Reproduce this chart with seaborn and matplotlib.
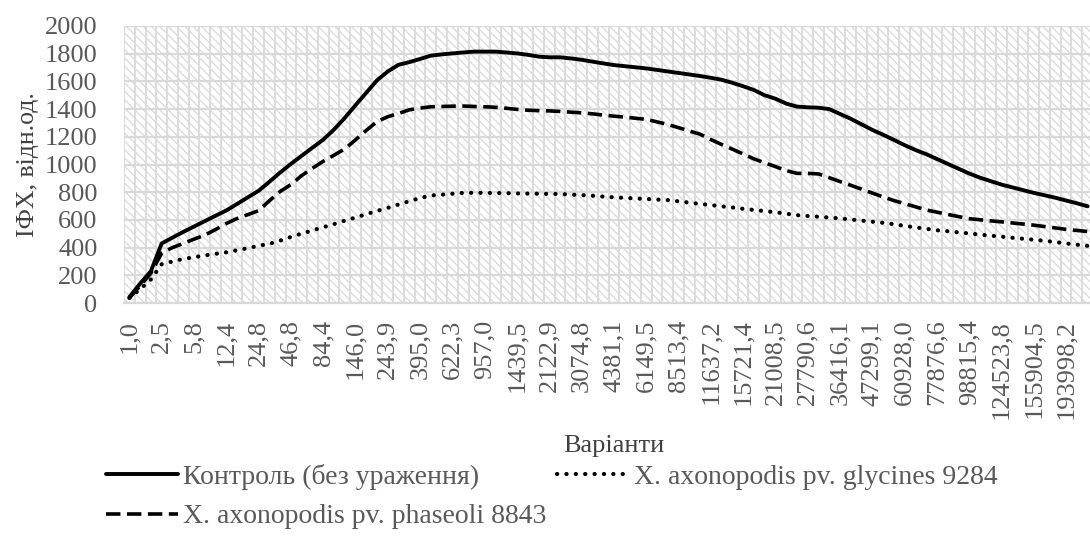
import numpy as np
import pandas as pd
import matplotlib
matplotlib.use("Agg")
import matplotlib.pyplot as plt
from matplotlib.patches import Rectangle
import seaborn as sns

# Tick labels shown on the category axis (every third category)
tick_labels = ["1,0", "2,5", "5,8", "12,4", "24,8", "46,8", "84,4", "146,0", "243,9", "395,0",
               "622,3", "957,0", "1439,5", "2122,9", "3074,8", "4381,1", "6149,5", "8513,4",
               "11637,2", "15721,4", "21008,5", "27790,6", "36416,1", "47299,1", "60928,0",
               "77876,6", "98815,4", "124523,8", "155904,5", "193998,2"]

# Values, one per category (90 categories)
control = [43, 140, 230, 430, 472, 513, 552, 591, 630, 668,
           715, 763, 810, 875, 942, 1004, 1063, 1121, 1179, 1252,
           1336, 1428, 1518, 1608, 1672, 1720, 1739, 1762, 1786, 1795,
           1802, 1809, 1815, 1815, 1815, 1809, 1802, 1792, 1779, 1774,
           1774, 1766, 1756, 1743, 1730, 1718, 1710, 1702, 1694, 1683,
           1672, 1661, 1650, 1639, 1626, 1612, 1590, 1565, 1538, 1500,
           1475, 1440, 1418, 1413, 1410, 1400, 1365, 1330, 1290, 1250,
           1215, 1178, 1140, 1105, 1075, 1040, 1005, 970, 935, 905,
           880, 855, 835, 815, 795, 778, 760, 740, 720, 698]

phaseoli = [36, 125, 215, 360, 400, 430, 461, 490, 530, 574,
            610, 638, 667, 738, 805, 855, 920, 973, 1023, 1067,
            1112, 1178, 1246, 1310, 1345, 1368, 1395, 1407, 1417, 1419,
            1421, 1422, 1419, 1417, 1413, 1406, 1398, 1392, 1389, 1387,
            1383, 1378, 1373, 1366, 1357, 1349, 1342, 1334, 1326, 1308,
            1289, 1266, 1242, 1219, 1180, 1145, 1111, 1076, 1041, 1012,
            985, 956, 936, 936, 932, 905, 877, 850, 822, 794,
            766, 740, 717, 695, 672, 656, 640, 624, 609, 601,
            593, 586, 578, 570, 562, 552, 542, 532, 524, 516]

glycines = [36, 100, 170, 280, 300, 318, 330, 344, 355, 366,
            381, 396, 413, 427, 450, 477, 501, 524, 547, 570,
            594, 617, 641, 665, 687, 711, 735, 758, 776, 782,
            789, 795, 796, 795, 794, 793, 791, 790, 789, 788,
            787, 783, 779, 774, 768, 763, 759, 755, 751, 747,
            743, 734, 725, 715, 707, 698, 690, 680, 672, 664,
            655, 645, 634, 628, 623, 617, 611, 603, 595, 587,
            579, 569, 557, 546, 536, 525, 518, 510, 502, 494,
            486, 479, 471, 464, 457, 449, 440, 430, 421, 413]

series_names = ["Контроль (без ураження)",
                "X. axonopodis pv. phaseoli 8843",
                "X. axonopodis pv. glycines 9284"]

n = len(control)
df = pd.DataFrame({"idx": np.arange(n), "control": control,
                   "phaseoli": phaseoli, "glycines": glycines})

sns.set_style("white")
plt.rcParams["font.family"] = ["Liberation Serif", "DejaVu Serif"]
plt.rcParams["hatch.linewidth"] = 0.9

fig = plt.figure(figsize=(10.9, 5.41), dpi=100)
ax = fig.add_axes([124 / 1090, 238 / 541, 969 / 1090, 277 / 541])

# hatched plot-area background
ax.patch.set_facecolor("white")
ax.add_patch(Rectangle((0, 0), 1, 1, transform=ax.transAxes, facecolor="white",
                       edgecolor="#d9d9d9", hatch="\\\\\\\\", linewidth=0, zorder=0))

grey = "#595959"
sns.lineplot(data=df, x="idx", y="control", ax=ax, color="black", lw=2.8,
             label=series_names[0], zorder=3)
sns.lineplot(data=df, x="idx", y="phaseoli", ax=ax, color="black", lw=2.6,
             linestyle=(0, (4, 1.8)), label=series_names[1], zorder=3)
sns.lineplot(data=df, x="idx", y="glycines", ax=ax, color="black", lw=3.0,
             linestyle=(0, (0.05, 2.2)), dash_capstyle="round",
             label=series_names[2], zorder=3)

ax.set_xlim(-0.5, n - 0.5)
ax.set_ylim(0, 2000)
ax.set_yticks(np.arange(0, 2001, 200))
ax.set_xticks(np.arange(0, n, 3))
ax.set_xticklabels(tick_labels, rotation=90)
ax.set_xticks(np.arange(n + 1) - 0.5, minor=True)

ax.set_axisbelow(True)
ax.grid(axis="y", which="major", color="#d9d9d9", lw=1.6, zorder=1)
ax.grid(axis="x", which="minor", color="#dcdcdc", lw=1.4, zorder=1)
ax.grid(axis="x", which="major", visible=False)

for s in ["top", "right", "left"]:
    ax.spines[s].set_visible(False)
ax.spines["bottom"].set_color("#d9d9d9")
ax.spines["bottom"].set_linewidth(1.6)

ax.tick_params(axis="y", length=0, pad=19, labelsize=19, labelcolor=grey)
ax.tick_params(axis="x", which="both", length=0, pad=12, labelsize=19, labelcolor=grey)

ax.set_ylabel("ІФХ, відн.од.", fontsize=18.5, color="#404040", labelpad=4)
ax.set_xlabel("Варіанти", fontsize=19, color="#404040")
ax.xaxis.set_label_coords(0.505, -0.475)

handles, labels = ax.get_legend_handles_labels()
ax.get_legend().remove()
fig.legend(handles, labels, loc="upper left", bbox_to_anchor=(106 / 1090, 1 - 464 / 541),
           ncol=2, frameon=False, fontsize=20, handlelength=2.6, handletextpad=0.18,
           columnspacing=0.36, labelspacing=0.5, labelcolor=grey,
           borderaxespad=0, borderpad=0)

fig.savefig("out.png", dpi=100)
